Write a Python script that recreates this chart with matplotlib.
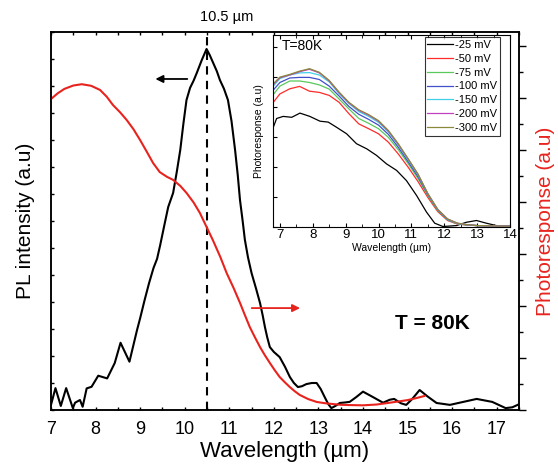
import matplotlib
matplotlib.use("Agg")
import matplotlib.pyplot as plt
from matplotlib.ticker import MultipleLocator, NullFormatter

plt.rcParams['font.family'] = ['Liberation Sans', 'DejaVu Sans']

# ---- main PL spectrum (left axis, a.u.) ----
pl_x = [7.0, 7.1, 7.22, 7.34, 7.49, 7.54, 7.65, 7.71, 7.8, 7.91, 8.06, 8.26, 8.43, 8.56,
        8.76, 8.93, 9.0, 9.1, 9.2, 9.3, 9.38, 9.45, 9.55, 9.63, 9.74, 9.82, 9.9, 9.97,
        10.04, 10.12, 10.2, 10.27, 10.38, 10.49, 10.56, 10.64, 10.72, 10.79, 10.88, 10.97,
        11.05, 11.13, 11.19, 11.24, 11.3, 11.35, 11.42, 11.5, 11.6, 11.69, 11.75, 11.8,
        11.85, 11.91, 12.0, 12.13, 12.25, 12.36, 12.45, 12.54, 12.63, 12.73, 12.85, 12.96,
        13.05, 13.14, 13.22, 13.29, 13.38, 13.48, 13.6, 13.7, 13.85, 14.0, 14.2, 14.45,
        14.6, 14.7, 14.85, 14.97, 15.1, 15.27, 15.45, 15.65, 15.95, 16.25, 16.55, 16.9,
        17.2, 17.35, 17.47]
pl_y = [0.19, 0.81, 0.15, 0.81, 0.07, 0.27, 0.37, 0.12, 0.80, 0.86, 1.27, 1.17, 1.74, 2.49,
        1.79, 2.96, 3.40, 4.07, 4.70, 5.26, 5.60, 6.11, 6.90, 7.52, 8.04, 8.80, 9.63, 10.60,
        11.48, 11.93, 12.20, 12.48, 12.95, 13.37, 13.15, 12.85, 12.55, 12.22, 11.90, 11.48,
        10.70, 9.63, 8.70, 7.78, 7.00, 6.30, 5.65, 5.07, 4.50, 3.96, 3.50, 3.07,
        2.70, 2.33, 2.15, 1.96, 1.60, 1.22, 1.00, 0.85, 0.88, 0.96, 1.00, 1.00,
        0.78, 0.48, 0.22, 0.07, 0.15, 0.26, 0.28, 0.30, 0.48, 0.68, 0.50, 0.27,
        0.38, 0.41, 0.25, 0.19, 0.40, 0.74, 0.50, 0.26, 0.19, 0.30, 0.41, 0.30,
        0.07, 0.10, 0.19]

# ---- main photoresponse (right axis, a.u.) ----
pr_x = [7.0, 7.15, 7.3, 7.5, 7.69, 7.9, 8.1, 8.25, 8.39, 8.55, 8.7, 8.85, 9.0, 9.15, 9.29,
        9.44, 9.6, 9.74, 9.9, 10.04, 10.2, 10.34, 10.49, 10.63, 10.8, 10.94, 11.1, 11.24,
        11.35, 11.46, 11.58, 11.69, 11.8, 11.91, 12.02, 12.13, 12.25, 12.36, 12.47, 12.58,
        12.77, 12.96, 13.15, 13.32, 13.5, 13.7, 14.0, 14.3, 14.6, 14.8, 15.0, 15.2, 15.38]
pr_y = [11.96, 12.18, 12.35, 12.48, 12.53, 12.47, 12.31, 12.05, 11.73, 11.45, 11.15, 10.80,
        10.38, 9.93, 9.50, 9.15, 8.97, 8.85, 8.62, 8.35, 7.98, 7.58, 7.04, 6.54, 5.88, 5.27,
        4.68, 4.12, 3.65, 3.19, 2.78, 2.42, 2.10, 1.81, 1.53, 1.27, 1.06, 0.88, 0.72, 0.58,
        0.42, 0.31, 0.26, 0.23, 0.20, 0.19, 0.18, 0.21, 0.28, 0.33, 0.38, 0.46, 0.54]

# ---- inset: bias-dependent photoresponse ----
in_x = [6.8, 7.0, 7.3, 7.6, 7.9, 8.2, 8.5, 8.8, 9.1, 9.4, 9.7, 10.0, 10.3, 10.6, 10.9,
        11.2, 11.5, 11.8, 12.1, 12.4, 12.7, 13.0, 13.5, 14.0]
r50 = [4.14, 4.42, 4.59, 4.67, 4.51, 4.47, 4.37, 4.14, 3.76, 3.42, 3.26, 3.09, 2.81, 2.42, 1.98,
       1.50, 0.97, 0.50, 0.20, 0.08, 0.05, 0.03, 0.02, 0.01]
r75 = [4.40, 4.68, 4.85, 4.85, 4.80, 4.72, 4.58, 4.25, 3.92, 3.60, 3.44, 3.26, 2.97, 2.56, 2.10,
       1.60, 1.03, 0.53, 0.22, 0.09, 0.05, 0.03, 0.02, 0.01]
r100 = [4.55, 4.80, 4.95, 4.97, 4.97, 4.90, 4.68, 4.35, 4.00, 3.74, 3.57, 3.38, 3.07, 2.64, 2.16,
        1.66, 1.06, 0.55, 0.23, 0.10, 0.05, 0.03, 0.02, 0.01]
r150 = [4.68, 4.93, 5.05, 5.12, 5.13, 5.05, 4.82, 4.43, 4.10, 3.83, 3.67, 3.47, 3.15, 2.72, 2.23,
        1.72, 1.08, 0.56, 0.24, 0.10, 0.06, 0.03, 0.02, 0.01]
r200 = [4.73, 4.96, 5.05, 5.16, 5.24, 5.12, 4.85, 4.46, 4.12, 3.87, 3.71, 3.51, 3.18, 2.74, 2.25,
        1.74, 1.09, 0.57, 0.25, 0.11, 0.06, 0.03, 0.02, 0.01]
r300 = [4.76, 4.98, 5.07, 5.18, 5.26, 5.14, 4.87, 4.48, 4.14, 3.89, 3.73, 3.53, 3.20, 2.76, 2.26,
        1.75, 1.10, 0.57, 0.25, 0.11, 0.06, 0.03, 0.02, 0.01]
r25_x = [6.8, 6.9, 7.1, 7.36, 7.61, 7.91, 8.22, 8.47, 8.72, 9.03, 9.33, 9.64, 9.94, 10.24,
         10.55, 10.85, 11.16, 11.46, 11.71, 11.96, 12.37, 12.67, 12.98, 13.28, 13.59, 14.0]
r25 = [3.31, 3.60, 3.67, 3.64, 3.78, 3.67, 3.51, 3.48, 3.31, 3.09, 2.76, 2.59, 2.37, 2.09,
       1.87, 1.53, 1.03, 0.48, 0.11, 0.00, 0.03, 0.14, 0.20, 0.11, 0.03, 0.02]

bias_labels = ['-25 mV', '-50 mV', '-75 mV', '-100 mV', '-150 mV', '-200 mV', '-300 mV']
bias_colors = ['#000000', '#ff2a2a', '#5ac85a', '#4050c8', '#40d0e8', '#c040c0', '#8a8a3a']
xticks_main = [7, 8, 9, 10, 11, 12, 13, 14, 15, 16, 17]
xticks_inset = [7, 8, 9, 10, 11, 12, 13, 14]

RED = '#e8231e'

fig = plt.figure(figsize=(5.58, 4.75), dpi=100)
ax = fig.add_axes([51/558, 1-410/475, (519-51)/558, (410-32)/475])
ax2 = ax.twinx()

ax.plot(pl_x, pl_y, color='black', lw=1.5, zorder=3, solid_joinstyle='round')
ax2.plot(pr_x, pr_y, color=RED, lw=1.5, solid_joinstyle='round')

ax.set_xlim(7, 17.5)
ax.set_ylim(0, 14)
ax2.set_ylim(0, (410-32)/26)

ax.axvline(10.5, color='black', lw=1.5, ls=(0, (4, 3)), zorder=2)

ax.set_xticks(xticks_main)
ax.xaxis.set_minor_locator(MultipleLocator(0.5))
ax.yaxis.set_major_locator(MultipleLocator(1))
ax.yaxis.set_major_formatter(NullFormatter())
ax.tick_params(axis='x', which='major', direction='out', length=5, width=1, labelsize=13, pad=8)
ax.tick_params(axis='x', which='minor', direction='out', length=3, width=1)
ax.tick_params(axis='y', which='major', direction='out', length=5, width=1)
ax.tick_params(top=True, which='minor', direction='in', length=2.5)
ax.tick_params(top=True, which='major', direction='in', length=2.5)
ax2.yaxis.set_major_locator(MultipleLocator(2))
ax2.yaxis.set_minor_locator(MultipleLocator(1))
ax2.yaxis.set_major_formatter(NullFormatter())
ax2.tick_params(axis='y', which='major', direction='out', length=5, width=1)
ax2.tick_params(axis='y', which='minor', direction='out', length=3, width=1)
for a in (ax, ax2):
    for s in a.spines.values():
        s.set_linewidth(1.1)

ax.set_xlabel('Wavelength (µm)', fontsize=16, labelpad=2)
ax.set_ylabel('PL intensity (a.u)', fontsize=15, labelpad=8)
ax2.set_ylabel('Photoresponse (a.u)', fontsize=15, color=RED, labelpad=4)

ax.text(10.95, 14.3, '10.5 µm', fontsize=10.5, ha='center', va='bottom')
ax.text(15.55, 3.2, 'T = 80K', fontsize=15, fontweight='bold', ha='center', va='center')

ax.annotate('', xy=(9.28, 12.26), xytext=(10.12, 12.26),
            arrowprops=dict(arrowstyle='-|>', color='black', lw=1.3, mutation_scale=11))
ax2.annotate('', xy=(12.65, 3.92), xytext=(11.44, 3.92),
             arrowprops=dict(arrowstyle='-|>', color=RED, lw=1.3, mutation_scale=11))

# ---- inset ----
ins = fig.add_axes([273/558, 1-226.5/475, (510-273)/558, (226.5-35)/475])
ins.plot(r25_x, r25, color=bias_colors[0], lw=0.9, label=bias_labels[0])
for ys, lab, col in zip([r50, r75, r100, r150, r200, r300], bias_labels[1:], bias_colors[1:]):
    ins.plot(in_x, ys, color=col, lw=0.9, label=lab)
ins.set_xlim(6.79, 14.0)
ins.set_ylim(0, (226.5-35)/30)
ins.set_xticks(xticks_inset)
ins.xaxis.set_minor_locator(MultipleLocator(0.5))
ins.yaxis.set_major_locator(MultipleLocator(1))
ins.yaxis.set_major_formatter(NullFormatter())
ins.tick_params(axis='x', which='both', direction='in', labelsize=9.5, pad=2, top=True)
ins.tick_params(axis='x', which='major', length=3)
ins.tick_params(axis='x', which='minor', length=2)
ins.tick_params(axis='y', which='major', direction='in', length=3)
ins.set_xlabel('Wavelength (µm)', fontsize=7.5, labelpad=1)
ins.set_ylabel('Photoresponse (a.u)', fontsize=7.5, labelpad=3)
for s in ins.spines.values():
    s.set_linewidth(0.8)
ins.text(7.05, 6.0, 'T=80K', fontsize=10, ha='left', va='center')
leg = ins.legend(loc='upper right', bbox_to_anchor=((500 - 273) / 237, 1 - 2/191.5),
                 fontsize=8, frameon=True, fancybox=False, edgecolor='black',
                 handlelength=2.3, handletextpad=0.2, labelspacing=0.35, borderpad=0.25,
                 borderaxespad=0.0)
leg.get_frame().set_linewidth(0.8)

fig.savefig('out.png', dpi=100)
